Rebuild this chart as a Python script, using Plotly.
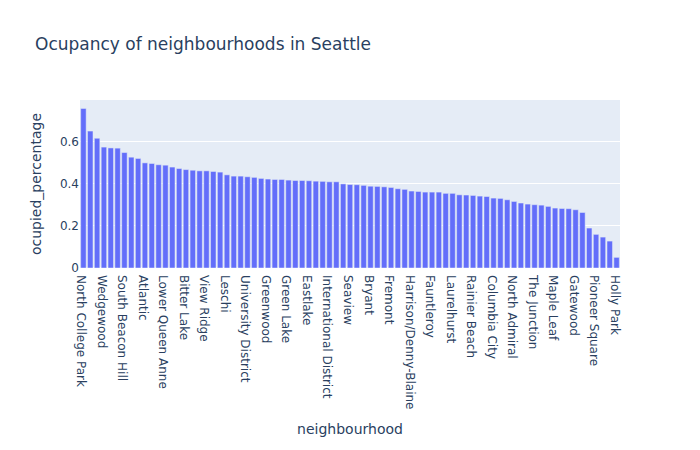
import plotly.express as px
import pandas as pd

neighbourhoods = [
    "North College Park", "Roosevelt", "Ravenna", "Wedgewood", "Madrona", "Montlake",
    "South Beacon Hill", "Phinney Ridge", "Wallingford", "Atlantic", "Mann", "Minor",
    "Lower Queen Anne", "Stevens", "Broadway", "Bitter Lake", "Portage Bay", "Belltown",
    "View Ridge", "First Hill", "Pike-Market", "Leschi", "Central Business District", "Westlake",
    "University District", "Yesler Terrace", "Judkins Park", "Greenwood", "Adams", "Loyal Heights",
    "Green Lake", "West Woodland", "Whittier Heights", "Eastlake", "Sunset Hill", "Crown Hill",
    "International District", "North Beacon Hill", "Mid-Beacon Hill", "Seaview", "Mount Baker", "Genesee",
    "Bryant", "Seward Park", "Brighton", "Fremont", "Dunlap", "Rainier View",
    "Harrison/Denny-Blaine", "Madison Park", "East Queen Anne", "Fauntleroy", "West Queen Anne", "North Queen Anne",
    "Laurelhurst", "Interbay", "Lawton Park", "Rainier Beach", "Briarcliff", "Southeast Magnolia",
    "Columbia City", "Alki", "Fairmount Park", "North Admiral", "High Point", "North Delridge",
    "The Junction", "Riverview", "Highland Park", "Maple Leaf", "Roxhill", "Arbor Heights",
    "Gatewood", "South Delridge", "Georgetown", "Pioneer Square", "South Park", "Olympic Hills",
    "Holly Park",
]

ocupied_percentage = [
    0.759, 0.651, 0.617, 0.575, 0.571, 0.570, 0.549, 0.527, 0.521, 0.500,
    0.497, 0.491, 0.489, 0.480, 0.473, 0.468, 0.465, 0.462, 0.462, 0.459,
    0.456, 0.443, 0.437, 0.437, 0.434, 0.431, 0.426, 0.423, 0.421, 0.421,
    0.418, 0.416, 0.416, 0.415, 0.413, 0.412, 0.410, 0.410, 0.400, 0.397,
    0.396, 0.393, 0.389, 0.388, 0.386, 0.383, 0.377, 0.374, 0.366, 0.364,
    0.361, 0.361, 0.361, 0.355, 0.355, 0.348, 0.347, 0.345, 0.342, 0.340,
    0.3325, 0.331, 0.3245, 0.3165, 0.309, 0.304, 0.301, 0.299, 0.293, 0.285,
    0.283, 0.282, 0.277, 0.264, 0.190, 0.160, 0.147, 0.128, 0.0506,
]

df = pd.DataFrame({"neighbourhood": neighbourhoods, "ocupied_percentage": ocupied_percentage})

fig = px.bar(df, x="neighbourhood", y="ocupied_percentage",
             title="Ocupancy of neighbourhoods in Seattle")
fig.update_layout(width=700, height=450, font=dict(family="DejaVu Sans"),
                  margin=dict(l=80, r=80, t=100, b=182))
fig.update_xaxes(automargin=False)
fig.write_html("out.html")
